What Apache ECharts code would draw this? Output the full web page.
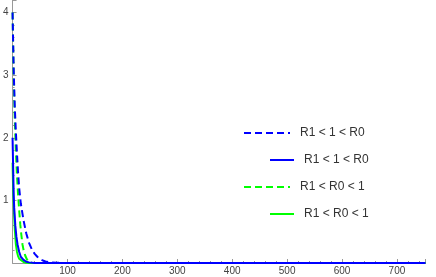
<!DOCTYPE html>
<html>
<head>
<meta charset="utf-8">
<script src="https://cdn.jsdelivr.net/npm/echarts@6/dist/echarts.min.js"></script>
<style>html,body{margin:0;padding:0;background:#fff}#c{width:436px;height:277px}</style>
</head>
<body>
<div id="c"></div>
<script>
// series names
var names = ['R1 < 1 < R0', 'R1 < 1 < R0', 'R1 < R0 < 1', 'R1 < R0 < 1'];
// x (time) values and y values for each curve
var tBlueDash = [0, 2, 4, 6, 8, 10, 12, 15, 20, 25, 30, 35, 40, 45, 50, 55, 60, 70, 80, 100, 200, 300, 400, 500, 600, 700, 752];
var yBlueDash = [4.0, 3.1, 2.5, 2.1, 1.75, 1.45, 1.2, 0.95, 0.68, 0.47, 0.32, 0.22, 0.15, 0.1, 0.065, 0.04, 0.025, 0.01, 0.003, 0, 0, 0, 0, 0, 0, 0, 0];
var tBlueSolid = [0, 1, 2, 3, 5, 7, 9, 12, 15, 20, 25, 30, 40, 100, 200, 300, 400, 500, 600, 700, 752];
var yBlueSolid = [2.0, 1.55, 1.1, 0.88, 0.6, 0.42, 0.3, 0.18, 0.1, 0.05, 0.02, 0.01, 0, 0, 0, 0, 0, 0, 0, 0, 0];
var tGreenDash = [0, 2, 4, 6, 8, 10, 12, 14, 16, 18, 20, 23, 26, 30, 35, 40, 100, 200, 300, 400, 500, 600, 700, 752];
var yGreenDash = [4.0, 3.0, 2.3, 1.8, 1.4, 1.1, 0.85, 0.62, 0.45, 0.3, 0.21, 0.12, 0.06, 0.02, 0.005, 0, 0, 0, 0, 0, 0, 0, 0, 0];
var tGreenSolid = [0, 1, 2, 4, 6, 8, 10, 12, 15, 20, 25, 30, 100, 200, 300, 400, 500, 600, 700, 752];
var yGreenSolid = [1.6, 1.2, 0.95, 0.55, 0.3, 0.18, 0.11, 0.07, 0.04, 0.015, 0.005, 0, 0, 0, 0, 0, 0, 0, 0, 0];

function pairs(t, y) { return t.map(function (v, i) { return [v, y[i]]; }); }

var BLUE = '#0000ff', GREEN = '#00ff00';
var dash = [7, 4];

var chart = echarts.init(document.getElementById('c'), null, { renderer: 'canvas' });
var legendBase = {
  orient: 'vertical', padding: 0, itemHeight: 14,
  itemStyle: { opacity: 0 },
  textStyle: { fontFamily: 'Liberation Sans, Arial, sans-serif', fontSize: 12, color: '#333', padding: [0, 0, 0, 5] },
  selectedMode: false
};
function lg(id, name, left, top, w) {
  return Object.assign({}, legendBase, { id: id, data: [{ name: name }], left: left, top: top, itemWidth: w });
}
chart.setOption({
  animation: false,
  grid: { left: 10, right: 10.5, top: 0, bottom: 14 },
  legend: [
    lg('l1', 'a', 243, 127, 46),
    lg('l2', 'b', 269, 154, 24),
    lg('l3', 'c', 243, 181, 46),
    lg('l4', 'd', 269, 208, 24)
  ],
  xAxis: {
    type: 'value', min: 0, max: 752, interval: 100,
    axisLine: { onZero: true, lineStyle: { color: '#999', width: 1 } },
    axisTick: { inside: true, length: 4, lineStyle: { color: '#999' } },
    minorTick: { show: true, splitNumber: 5, length: 2, lineStyle: { color: '#999' } },
    splitLine: { show: false },
    axisLabel: { showMinLabel: false, showMaxLabel: false, margin: 3, fontSize: 10, color: '#444', fontFamily: 'Liberation Sans, Arial, sans-serif' }
  },
  yAxis: {
    type: 'value', min: 0, max: 4.2, interval: 1,
    axisLine: { show: true, lineStyle: { color: '#999', width: 1 } },
    axisTick: { show: true, inside: true, length: 4, lineStyle: { color: '#999' } },
    minorTick: { show: true, splitNumber: 5, length: 2, lineStyle: { color: '#999' } },
    splitLine: { show: false },
    axisLabel: { showMinLabel: false, showMaxLabel: false, margin: 4, fontSize: 10, color: '#444', fontFamily: 'Liberation Sans, Arial, sans-serif' }
  },
  series: [
    { name: 'd', type: 'line', data: pairs(tGreenSolid, yGreenSolid), showSymbol: false, symbol: 'none', z: 2,
      lineStyle: { color: GREEN, width: 2 }, itemStyle: { color: GREEN } },
    { name: 'c', type: 'line', data: pairs(tGreenDash, yGreenDash), showSymbol: false, symbol: 'none', z: 3,
      lineStyle: { color: GREEN, width: 2, type: dash }, itemStyle: { color: GREEN } },
    { name: 'a', type: 'line', data: pairs(tBlueDash, yBlueDash), showSymbol: false, symbol: 'none', z: 4,
      lineStyle: { color: BLUE, width: 2, type: dash }, itemStyle: { color: BLUE } },
    { name: 'b', type: 'line', data: pairs(tBlueSolid, yBlueSolid), showSymbol: false, symbol: 'none', z: 5,
      lineStyle: { color: BLUE, width: 2 }, itemStyle: { color: BLUE } }
  ]
});
// legend labels shown as the original names
chart.setOption({
  legend: [
    { id: 'l1', formatter: function () { return names[0]; } },
    { id: 'l2', formatter: function () { return names[1]; } },
    { id: 'l3', formatter: function () { return names[2]; } },
    { id: 'l4', formatter: function () { return names[3]; } }
  ]
});
</script>
</body>
</html>
